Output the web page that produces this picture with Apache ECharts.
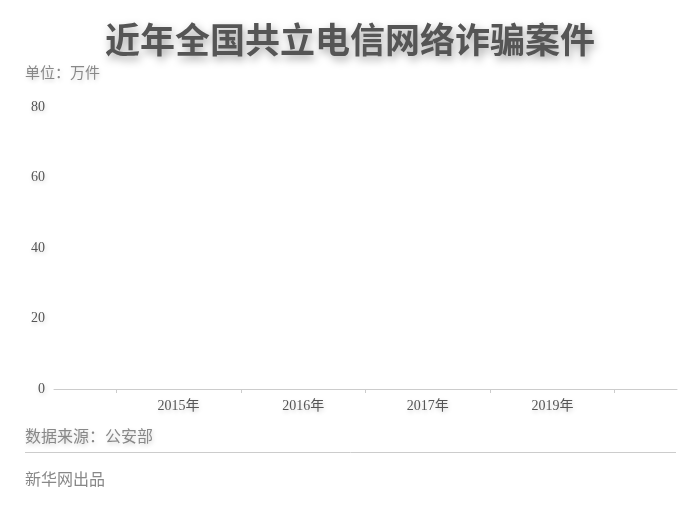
<!DOCTYPE html>
<html>
<head>
<meta charset="utf-8">
<script src="https://cdn.jsdelivr.net/npm/echarts@6/dist/echarts.min.js"></script>
<style>
  html, body { margin: 0; padding: 0; background: #fff; }
  #main { width: 700px; height: 510px; }
</style>
</head>
<body>
<div id="main"></div>
<script>
const slots = ['a', 'b', 'c', 'd', 'e']
const yearLabels = ['', '2015年', '2016年', '2017年', '2019年', '']
// no bars are drawn in the picture
const caseValues = [0, 0, 0, 0, 0]
const yTicks = [0, 20, 40, 60, 80]

const FONT = "'Liberation Serif', 'Noto Sans CJK SC', serif"
const shadow = { textShadowColor: 'rgba(0,0,0,0.18)', textShadowBlur: 4, textShadowOffsetX: 1, textShadowOffsetY: 2 }

const chart = echarts.init(document.getElementById('main'))
chart.setOption({
  animation: false,
  title: {
    text: '近年全国共立电信网络诈骗案件',
    left: 'center',
    top: 21,
    textStyle: Object.assign({ fontFamily: FONT, fontSize: 35, fontWeight: 'bold', color: '#555' },
      { textShadowColor: 'rgba(0,0,0,0.35)', textShadowBlur: 8, textShadowOffsetX: 2, textShadowOffsetY: 4 })
  },
  grid: { left: 54, right: 23, top: 107, bottom: 121 },
  xAxis: [
    {
      type: 'category',
      data: slots,
      boundaryGap: true,
      axisLine: { lineStyle: { color: '#ccc' } },
      axisTick: { show: true, alignWithLabel: true, interval: 0, length: 4, lineStyle: { color: '#ccc' } },
      axisLabel: { show: true, interval: 0, color: 'rgba(0,0,0,0)' }
    },
    {
      type: 'category',
      data: yearLabels,
      boundaryGap: false,
      position: 'bottom',
      axisLine: { show: false },
      axisTick: { show: false },
      axisLabel: Object.assign({ interval: 0, margin: 10, fontFamily: FONT, fontSize: 14, color: '#555' }, shadow)
    }
  ],
  yAxis: {
    type: 'value',
    min: yTicks[0],
    max: yTicks[yTicks.length - 1],
    interval: yTicks[1] - yTicks[0],
    axisLine: { show: false },
    axisTick: { show: false },
    splitLine: { show: false },
    axisLabel: Object.assign({ margin: 9, fontFamily: FONT, fontSize: 14, color: '#555' }, shadow)
  },
  series: [
    {
      type: 'bar',
      xAxisIndex: 0,
      data: caseValues,
      itemStyle: { color: '#c23531' }
    }
  ],
  graphic: [
    {
      type: 'text', left: 25, top: 67,
      style: Object.assign({ text: '单位：万件', fontFamily: FONT, fontSize: 15, fill: '#888' }, shadow)
    },
    {
      type: 'text', left: 25, top: 430,
      style: Object.assign({ text: '数据来源：公安部', fontFamily: FONT, fontSize: 16, fill: '#888' }, shadow)
    },
    {
      type: 'line',
      shape: { x1: 25, y1: 452.5, x2: 676, y2: 452.5 },
      style: { stroke: '#ccc', lineWidth: 1 }
    },
    {
      type: 'text', left: 25, top: 473,
      style: { text: '新华网出品', fontFamily: FONT, fontSize: 16, fill: '#888' }
    }
  ]
})
</script>
</body>
</html>
